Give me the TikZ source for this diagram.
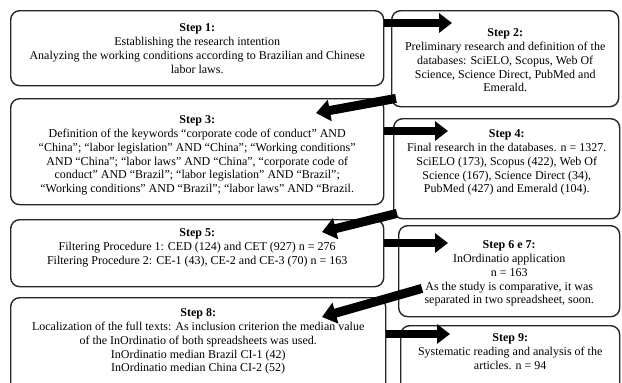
\documentclass[tikz,border=0pt]{standalone}
\usepackage{fontspec}
\setmainfont{Liberation Serif}
\usetikzlibrary{arrows.meta}
\begin{document}
\begin{tikzpicture}[x=1pt,y=-1pt,
  stepbox/.style={draw=black!85, line width=1.4pt, rounded corners=9pt,
    inner sep=0pt, anchor=north west},
  steptext/.style={align=center, inner sep=0pt, anchor=north,
    font=\fontsize{12}{13.8}\selectfont},
  bigarrow/.style={line width=8pt, -{Triangle[length=13pt,width=19pt]}},
  slantarrow/.style={line width=9pt, -{Triangle[length=14pt,width=21pt]}},
]
\useasboundingbox (0,0) rectangle (622,383);
\clip (0,0) rectangle (622,383);

% left column
\node[stepbox, minimum width=373pt, minimum height=75pt]  (b1) at (10,10)  {};
\node[stepbox, minimum width=373pt, minimum height=106pt] (b3) at (10,98)  {};
\node[stepbox, minimum width=373pt, minimum height=67pt]  (b5) at (10,219) {};
\node[stepbox, minimum width=375pt, minimum height=110pt] (b8) at (10,297) {};
% right column
\node[stepbox, minimum width=227pt, minimum height=96pt]  (b2) at (391,10)  {};
\node[stepbox, minimum width=226pt, minimum height=100pt] (b4) at (393,118) {};
\node[stepbox, minimum width=221pt, minimum height=91pt]  (b6) at (398,225) {};
\node[stepbox, minimum width=219pt, minimum height=80pt]  (b9) at (400,325) {};

% box texts
\node[steptext] (t1) at ([yshift=-13.5pt]b1.north) {\textbf{Step 1:}\\
  Establishing the research intention\\
  Analyzing the working conditions according to Brazilian and Chinese\\
  labor laws.};
\node[steptext] (t2) at ([yshift=-18.5pt]b2.north) {\textbf{Step 2:}\\
  Preliminary research and definition of the\\
  databases: SciELO, Scopus, Web Of\\
  Science, Science Direct, PubMed and\\
  Emerald.};
\node[steptext] (t3) at ([yshift=-17.5pt]b3.north) {\textbf{Step 3:}\\
  Definition of the keywords “corporate code of conduct” AND\\
  “China”; “labor legislation” AND “China”; “Working conditions”\\
  AND “China”; “labor laws” AND “China”, “corporate code of\\
  conduct” AND “Brazil”; “labor legislation” AND “Brazil”;\\
  “Working conditions” AND “Brazil”; “labor laws” AND “Brazil.};
\node[steptext] (t4) at ([yshift=-11.5pt]b4.north) {\textbf{Step 4:}\\
  Final research in the databases. n = 1327.\\
  SciELO (173), Scopus (422), Web Of\\
  Science (167), Science Direct (34),\\
  PubMed (427) and Emerald (104).};
\node[steptext] (t5) at ([yshift=-9.5pt]b5.north) {\textbf{Step 5:}\\
  Filtering Procedure 1: CED (124) and CET (927) n = 276\\
  Filtering Procedure 2: CE-1 (43), CE-2 and CE-3 (70) n = 163};
\node[steptext] (t6) at ([yshift=-15.5pt]b6.north) {\textbf{Step 6 e 7:}\\
  InOrdinatio application\\
  n = 163\\
  As the study is comparative, it was\\
  separated in two spreadsheet, soon.};
\node[steptext] (t8) at ([yshift=-11.5pt]b8.north) {\textbf{Step 8:}\\
  Localization of the full texts: As inclusion criterion the median value\\
  of the InOrdinatio of both spreadsheets was used.\\
  InOrdinatio median Brazil CI-1 (42)\\
  InOrdinatio median China CI-2 (52)};
\node[steptext] (t9) at ([yshift=-8.5pt]b9.north) {\textbf{Step 9:}\\
  Systematic reading and analysis of the\\
  articles. n = 94};

% arrow tips
\coordinate (h12) at (452,23);
\coordinate (h34) at (448,131);
\coordinate (h56) at (448,243);
\coordinate (h89) at (450,334);
\coordinate (d23) at (316,113);
\coordinate (d45) at (322,232);
\coordinate (d68) at (322,317);

% flow arrows
\draw[bigarrow] (b1.east |- h12) -- (h12);
\draw[slantarrow] ([xshift=5pt,yshift=9pt]b2.south west) -- (d23);
\draw[bigarrow] (b3.east |- h34) -- (h34);
\draw[slantarrow] ([xshift=4pt,yshift=6pt]b4.south west) -- (d45);
\draw[bigarrow] (b5.east |- h56) -- (h56);
\draw[slantarrow] ([xshift=24pt,yshift=29pt]b6.south west) -- (d68);
\draw[bigarrow] (b8.east |- h89) -- (h89);
\end{tikzpicture}
\end{document}
